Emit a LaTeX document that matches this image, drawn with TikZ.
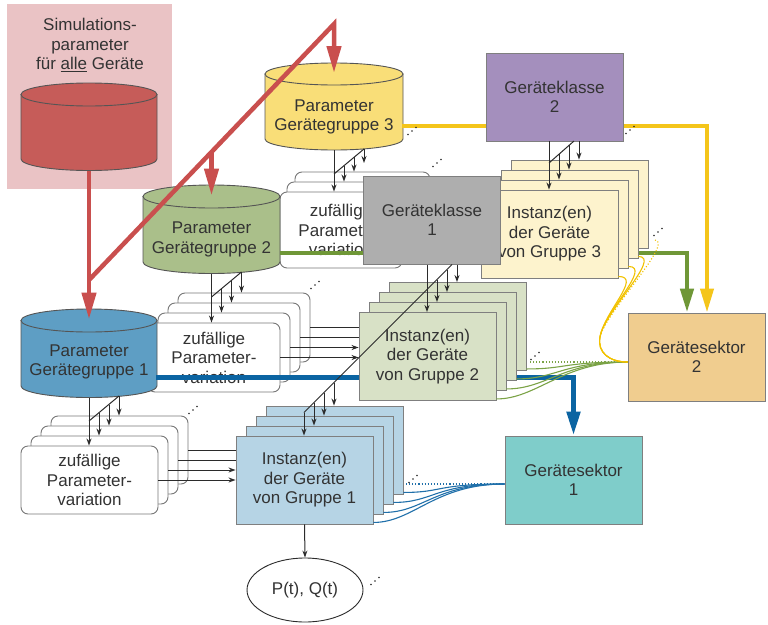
\documentclass[tikz,border=0pt]{standalone}
\usepackage{fontspec}
\setmainfont{Liberation Sans}
\usetikzlibrary{arrows.meta,shapes.geometric}
\definecolor{txtcol}{HTML}{333333}
\definecolor{linecol}{HTML}{2B2B2B}
\definecolor{boxline}{HTML}{7F7F7F}
\definecolor{zline}{HTML}{777777}
\definecolor{cylborder}{HTML}{555555}
\definecolor{pinkbg}{HTML}{EAC3C5}
\definecolor{redcyl}{HTML}{C65C59}
\definecolor{redline}{HTML}{C94F4E}
\definecolor{yelcyl}{HTML}{F9DE78}
\definecolor{grecyl}{HTML}{AABF8A}
\definecolor{blucyl}{HTML}{5E9EC4}
\definecolor{klasse1}{HTML}{AEAEAE}
\definecolor{klasse2}{HTML}{A48FBD}
\definecolor{inst3}{HTML}{FDF3CD}
\definecolor{inst2}{HTML}{D8E1C6}
\definecolor{inst1}{HTML}{B6D4E5}
\definecolor{sektor2}{HTML}{F0CD8F}
\definecolor{sektor1}{HTML}{7FCDCA}
\definecolor{yelline}{HTML}{F4C51A}
\definecolor{greline}{HTML}{6F9737}
\definecolor{bluline}{HTML}{0B64A2}
\definecolor{yelthin}{HTML}{F2C200}
\definecolor{grethin}{HTML}{7BA346}
\definecolor{bluthin}{HTML}{2070AA}

\newcommand{\drawcylinder}[7]{%
  \filldraw[cylline,fill=#7] (#2-#5,#3) -- (#2-#5,#4)
    .. controls (#2-#5,#4+0.5523*#6) and (#2-0.5523*#5,#4+#6) .. (#2,#4+#6)
    .. controls (#2+0.5523*#5,#4+#6) and (#2+#5,#4+0.5523*#6) .. (#2+#5,#4)
    -- (#2+#5,#3) -- cycle;
  \filldraw[cylline,fill=#7] (#2,#3) ellipse [x radius=#5, y radius=#6];
  \coordinate (#1n) at (#2,#3-1);
  \coordinate (#1s) at (#2,#4+#6);
}
\newcommand{\trippledots}[2]{%
  \fill[linecol] (#1-4,#2+3.5) circle (0.9pt) (#1,#2) circle (0.9pt) (#1+4,#2-3.5) circle (0.9pt);
}

\begin{document}
\begin{tikzpicture}[x=1pt,y=-1pt,line join=miter,
  txtstyle/.style={font=\fontsize{17}{19.5}\selectfont, text=txtcol, align=center},
  instbox/.style={txtstyle, draw=boxline, line width=0.9pt, minimum width=137pt, minimum height=88pt, inner sep=0pt},
  zvbox/.style={txtstyle, draw=zline, fill=white, rounded corners=7pt, line width=0.9pt, inner sep=0pt},
  thinarr/.style={draw=linecol, line width=1pt, -{Stealth[length=7pt,width=5pt]}},
  thinline/.style={draw=linecol, line width=1pt},
  bigarr/.style={line width=4.5pt, -{Triangle[length=24pt,width=13pt]}},
  redarr/.style={draw=redline, line width=4.5pt, -{Triangle[length=27pt,width=14pt]}},
  cylline/.style={draw=cylborder, line width=0.9pt},
  thincurve/.style={line width=1.1pt}
]
\useasboundingbox (0,0) rectangle (768,624);
\fill[white] (0,0) rectangle (768,624);

% simulation parameters
\fill[pinkbg] (7,4) rectangle (172,189);
\node[txtstyle] (simtext) at (90,45) {Simulations-\\parameter\\für \underline{alle} Geräte};
\drawcylinder{cr}{89}{94.5}{159}{68}{11.5}{redcyl}

% sectors and output
\node[instbox, fill=sektor2] (s2) at (696.5,357) {Gerätesektor\\2};
\node[instbox, fill=sektor1] (s1) at (573.5,480) {Gerätesektor\\1};
\node[txtstyle, draw=linecol, line width=0.9pt, ellipse, minimum width=116pt, minimum height=64pt, inner sep=0pt] (pq) at (305,590) {P(t), Q(t)};

% random parameter variation stacks
\node[zvbox, minimum width=135pt, minimum height=76pt] (za2) at (362.5,210) {};
\node[zvbox, minimum width=129pt, minimum height=76pt] (za1) at (351.5,220) {};
\node[zvbox, minimum width=122pt, minimum height=76pt] (za0) at (341,230) {zufällige\\Parameter-\\variation};
\foreach \i in {3,2,1}{\node[zvbox, minimum width=132pt, minimum height=69pt] (zb\i) at (214+10*\i,357.5-10*\i) {};}
\node[zvbox, minimum width=132pt, minimum height=69pt] (zb0) at (214,357.5) {zufällige\\Parameter-\\variation};
\foreach \i in {3,2,1}{\node[zvbox, minimum width=137pt, minimum height=68pt] (zc\i) at (89.5+10*\i,480-10*\i) {};}
\node[zvbox, minimum width=137pt, minimum height=68pt] (zc0) at (89.5,480) {zufällige\\Parameter-\\variation};

% parameter cylinders
\drawcylinder{c3}{334}{74}{139}{69}{11}{yelcyl}
\node[txtstyle] (c3t) at (334,117) {Parameter\\Gerätegruppe 3};
\drawcylinder{c2}{211.5}{196.5}{262}{68.5}{11.5}{grecyl}
\node[txtstyle] (c2t) at (211.5,239.5) {Parameter\\Gerätegruppe 2};
\drawcylinder{c1}{89}{320.5}{386}{68}{11.5}{blucyl}
\node[txtstyle] (c1t) at (89,362) {Parameter\\Gerätegruppe 1};

% thick coloured connectors
\coordinate (c3out) at (402,126);
\coordinate (yelturn) at (707,126);
\coordinate (c2out) at (280,253);
\coordinate (greturn) at (687,253);
\coordinate (c1out) at (156,377);
\coordinate (bluturn) at (573.5,377);
\draw[bigarr, draw=yelline, line width=4pt] (c3out) -- (yelturn) -- (yelturn |- s2.north);
\draw[bigarr, draw=greline] (c2out) -- (greturn) -- (greturn |- s2.north);
\draw[bigarr, draw=bluline, line width=5pt] (c1out) -- (bluturn) -- (s1.north);

% instance stacks and device classes
\foreach \i in {3,2,1}{\node[instbox, fill=inst3] (g3\i) at (549.5+10*\i,234-10*\i) {};}
\node[instbox, fill=inst3] (g30) at (549.5,234) {Instanz(en)\\der Geräte\\von Gruppe 3};
\node[instbox, fill=klasse1] (k1) at (432,220) {Geräteklasse\\1};
\node[instbox, fill=klasse2] (k2) at (554.5,97) {Geräteklasse\\2};
\foreach \i in {3,2,1}{\node[instbox, fill=inst2] (g2\i) at (427.5+10*\i,356.5-10*\i) {};}
\node[instbox, fill=inst2] (g20) at (427.5,356.5) {Instanz(en)\\der Geräte\\von Gruppe 2};
\foreach \i in {3,2,1}{\node[instbox, fill=inst1] (g1\i) at (304.5+10*\i,480-10*\i) {};}
\node[instbox, fill=inst1] (g10) at (304.5,480) {Instanz(en)\\der Geräte\\von Gruppe 1};

% red distribution lines
\coordinate (rjoin) at (89,280);
\coordinate (rapex) at (334,24);
\coordinate (rbranch) at (211.5,152);
\draw[redarr] (crs) -- (c1n);
\draw[redarr] (rjoin) -- (rapex) -- (c3n);
\draw[redarr] (rbranch) -- (c2n);

% fans from cylinders
\draw[thinarr] (c1s) -- (c1s |- zc0.north);
\draw[thinline] (89,421) -- (119,396);
\draw[thinarr] (99,413) -- (99,413 |- zc1.north);
\draw[thinarr] (109,405) -- (109,405 |- zc2.north);
\draw[thinarr] (119,396) -- (119,396 |- zc3.north);

\draw[thinarr] (c2s) -- (c2s |- zb0.north);
\draw[thinline] (211.5,297) -- (241.5,272);
\draw[thinarr] (221.5,289) -- (221.5,289 |- zb1.north);
\draw[thinarr] (231.5,281) -- (231.5,281 |- zb2.north);
\draw[thinarr] (241.5,272) -- (241.5,272 |- zb3.north);

\coordinate (c3fan) at (364,149);
\draw[thinarr] (c3s) -- (c3s |- za0.north);
\draw[thinline] (334,174) -- (c3fan);
\draw[thinarr] (344,166) -- (344,166 |- za1.north);
\draw[thinarr] (354,157) -- (354,157 |- za2.north);
\draw[thinarr] (c3fan) -- (364,163);

% fans from device classes
\coordinate (k2m) at (549,141);
\draw[thinarr] (k2m) -- (k2m |- g30.north);
\draw[thinline] (549,163) -- (574,141);
\draw[thinarr] (559,154.2) -- (559,154.2 |- g31.north);
\draw[thinarr] (569,145.4) -- (569,145.4 |- g32.north);
\draw[thinarr] (579,141) -- (579,141 |- g33.north);

\coordinate (k1m) at (427,264.5);
\coordinate (k1d) at (452,264.5);
\coordinate (g1d) at (304,412.5);
\draw[thinarr] (k1m) -- (k1m |- g20.north);
\draw[thinline] (k1d) -- (g1d);
\draw[thinarr] (437,279.5) -- (437,279.5 |- g21.north);
\draw[thinarr] (447,269.5) -- (447,269.5 |- g22.north);
\draw[thinarr] (457,264.5) -- (457,264.5 |- g23.north);
\draw[thinarr] (g1d) -- (g1d |- g10.north);
\draw[thinarr] (314,402.5) -- (314,402.5 |- g11.north);
\draw[thinarr] (324,392.5) -- (324,392.5 |- g12.north);
\draw[thinarr] (334,382.5) -- (334,382.5 |- g13.north);

% variation to instances
\foreach \i in {0,1}{\draw[thinarr] (zc\i.east) -- (zc\i.east -| g10.west);}
\foreach \i in {2,3}{\draw[thinline] (zc\i.east) -- (zc\i.east -| g10.west);}
\foreach \i in {0,1}{\draw[thinarr] (zb\i.east) -- (zb\i.east -| g20.west);}
\foreach \i in {2,3}{\draw[thinline] (zb\i.east) -- (zb\i.east -| g20.west);}

\draw[thinarr] (g10.south) -- (pq.north);

% instances to sectors
\foreach \i in {0,1,2,3}{\draw[thincurve, draw=bluthin] ([yshift=2pt]g1\i.south east) .. controls +(40,0) and +(-70,0) .. ([yshift=-4pt]s1.west);}
\coordinate (bdot) at (406,484);
\draw[thincurve, draw=bluthin, dotted] (bdot) -- ([yshift=-4pt]s1.west);

\foreach \i in {0,1,2,3}{\draw[thincurve, draw=grethin] ([yshift=2pt]g2\i.south east) .. controls +(40,0) and +(-65,0) .. ([yshift=-5pt]s2.west);}
\coordinate (gdot) at (530,362);
\draw[thincurve, draw=grethin, dotted] (gdot) -- ([yshift=-5pt]s2.west);

\coordinate (yelmid) at (600,337);
\foreach \i in {0,1,2}{\draw[thincurve, draw=yelthin] ([yshift=2pt]g3\i.south east) .. controls +(24,0) and (604,312) .. (yelmid) .. controls (597,353) and (610,362) .. ([yshift=-5pt]s2.west);}
\coordinate (ydot) at (655,240);
\draw[thincurve, draw=yelthin, dotted] (ydot) .. controls (674,242) and (606,312) .. (yelmid);

% continuation dots
\trippledots{412}{131}
\trippledots{630}{130}
\trippledots{437}{163}
\trippledots{315}{285}
\trippledots{193}{410}
\trippledots{658}{232}
\trippledots{535}{356}
\trippledots{413}{479}
\trippledots{375}{581}
\end{tikzpicture}
\end{document}
